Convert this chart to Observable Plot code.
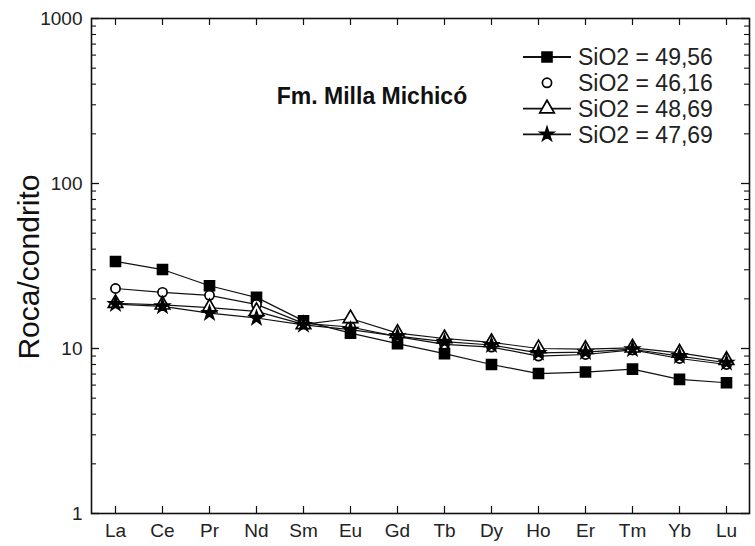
<!DOCTYPE html>
<html><head><meta charset="utf-8">
<script src="https://cdn.jsdelivr.net/npm/d3@7"></script>
<script src="https://cdn.jsdelivr.net/npm/@observablehq/plot@0.6"></script>
<style>
body{margin:0;background:#fff}
#chart{position:relative;width:755px;height:546px}
</style>
</head><body><div id="chart"></div>
<script>
// Categories (REE, chondrite-normalised)
const elements = ["La","Ce","Pr","Nd","Sm","Eu","Gd","Tb","Dy","Ho","Er","Tm","Yb","Lu"];
// Series labels (legend)
const seriesLabels = ["SiO2 = 49,56","SiO2 = 46,16","SiO2 = 48,69","SiO2 = 47,69"];
// Series values (rock / chondrite)
const sio2_4956 = [33.7, 30.1, 24.0, 20.4, 14.7, 12.4, 10.7, 9.3, 8.0, 7.05, 7.2, 7.5, 6.5, 6.2];
const sio2_4616 = [23.1, 21.9, 21.0, 18.5, 14.2, 13.5, 11.8, 10.6, 10.2, 9.0, 9.2, 9.8, 8.7, 8.0];
const sio2_4869 = [18.8, 18.4, 17.7, 16.8, 14.0, 15.2, 12.4, 11.5, 10.9, 10.0, 9.9, 10.1, 9.4, 8.5];
const sio2_4769 = [18.6, 18.0, 16.4, 15.3, 13.9, 13.0, 11.9, 11.0, 10.5, 9.4, 9.5, 9.9, 9.0, 8.2];
// Tick labels
const yTickValues = [1, 10, 100, 1000];
const titleText = "Fm. Milla Michicó";
const yTitle = "Roca/condrito";

const seriesValues = [sio2_4956, sio2_4616, sio2_4869, sio2_4769];
const symbols = ["square", "circle", "triangle", "star"];
const filled = [true, false, false, true];
const radii = [5.6, 4.6, 5.4, 4.2];

const data = seriesValues.flatMap((vals, s) =>
  vals.map((v, i) => ({el: elements[i], v, series: seriesLabels[s], s})));
const minorTicks = d3.range(0, 3).flatMap(e => d3.range(2, 10).map(m => m * 10 ** e));

const W = 755, H = 546, mL = 91, mR = 6, mT = 18, mB = 33;
const fw = W - mL - mR, fh = H - mT - mB;
const font = "'Liberation Sans', Arial, sans-serif";

const chart = Plot.plot({
  width: W, height: H,
  marginLeft: mL, marginRight: mR, marginTop: mT, marginBottom: mB,
  style: {fontFamily: font, fontSize: "19px", color: "#111", background: "#fff"},
  x: {type: "point", domain: elements, padding: 0.48, label: null, axis: null},
  y: {type: "log", domain: [1, 1000], label: null, axis: null},
  marks: [
    // inward ticks
    Plot.tickY(yTickValues, {y: d => d, insetRight: fw - 8, stroke: "#111", strokeWidth: 1.3}),
    Plot.tickY(minorTicks, {y: d => d, insetRight: fw - 5, stroke: "#111", strokeWidth: 1.1}),
    Plot.tickY(yTickValues, {y: d => d, insetLeft: fw - 8, stroke: "#111", strokeWidth: 1.3}),
    Plot.tickY(minorTicks, {y: d => d, insetLeft: fw - 5, stroke: "#111", strokeWidth: 1.1}),
    Plot.tickX(elements, {x: d => d, insetTop: fh - 7, stroke: "#111", strokeWidth: 1.2}),
    Plot.tickX(elements, {x: d => d, insetBottom: fh - 7, stroke: "#111", strokeWidth: 1.2}),
    Plot.axisY(yTickValues, {tickSize: 0, tickPadding: 9, tickFormat: d => String(d), fill: "#222"}),
    Plot.axisX(elements, {tickSize: 0, tickPadding: 10, fill: "#222"}),
    Plot.frame({stroke: "#111", strokeWidth: 1.6}),
    Plot.line(data, {x: "el", y: "v", z: "series", stroke: "#111", strokeWidth: 1.2}),
    ...seriesLabels.map((lab, s) =>
      Plot.dot(data.filter(d => d.s === s), {x: "el", y: "v", symbol: symbols[s],
        fill: filled[s] ? "#000" : "#fff", stroke: "#000", strokeWidth: 1.7, r: radii[s]}))
  ]
});

const svg = d3.select(chart);
// Y-axis title
svg.append("text")
  .attr("transform", "translate(39,267) rotate(-90)")
  .attr("text-anchor", "middle")
  .attr("font-family", font)
  .attr("font-size", 30).attr("fill", "#111")
  .text(yTitle);
// Plot title
svg.append("text")
  .attr("x", 372).attr("y", 104)
  .attr("text-anchor", "middle")
  .attr("font-family", font)
  .attr("font-weight", "bold")
  .attr("font-size", 23).attr("fill", "#111")
  .text(titleText);
// Legend
const symGen = {square: d3.symbolSquare, circle: d3.symbolCircle, triangle: d3.symbolTriangle, star: d3.symbolStar};
seriesLabels.forEach((lab, i) => {
  const g = svg.append("g").attr("transform", `translate(547,${57 + 25.8 * i})`);
  if (symbols[i] !== "circle") {
    g.append("line").attr("x1", -24).attr("x2", 24).attr("stroke", "#111").attr("stroke-width", 1.8);
  }
  const area = Math.PI * radii[i] * radii[i];
  g.append("path")
    .attr("d", d3.symbol(symGen[symbols[i]], area)())
    .attr("fill", filled[i] ? "#000" : "#fff").attr("stroke", "#000").attr("stroke-width", 1.7);
  g.append("text").attr("x", 31).attr("y", 0).attr("dy", "0.36em")
    .attr("text-anchor", "start")
    .attr("font-family", font)
    .attr("font-size", 23).attr("fill", "#222")
    .text(lab);
});

document.getElementById("chart").appendChild(chart);
</script>
</body></html>
